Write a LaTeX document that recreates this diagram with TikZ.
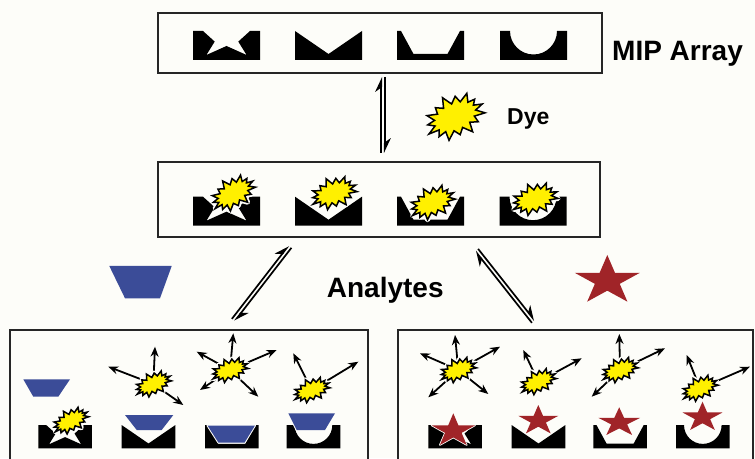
\documentclass[tikz,border=0pt]{standalone}
\usepackage{fontspec}
\setmainfont{Liberation Sans}
\usetikzlibrary{arrows.meta,calc}

\definecolor{paper}{RGB}{253,253,249}
\definecolor{dyeyellow}{RGB}{255,240,0}
\definecolor{analyteblue}{RGB}{59,76,152}
\definecolor{analytered}{RGB}{160,36,40}
\definecolor{frame}{RGB}{38,38,38}

\tikzset{
  panel/.style={draw=frame, line width=1.6pt, fill=paper, inner sep=0pt, outer sep=0pt},
  caption/.style={font=\bfseries\fontsize{28}{30}\selectfont, inner sep=0pt, anchor=base west},
  emit/.style={line width=1.8pt, -{Stealth[length=10pt,width=8pt]}},
  harp/.style={line width=1.7pt, -{Stealth[harpoon,length=13pt,width=12pt]}},
  halo/.style={preaction={draw=paper, line width=#1, line join=round}},
  halo/.default=4pt,
  % imprinted cavities: origin at the lower left corner of the block
  pics/starwell/.style={code={
    \fill (0,29) -- (10,29) -- (21.7,18.4) -- (13.4,5) -- (33.5,14) -- (53.6,5)
      -- (45.3,18.4) -- (57,29) -- (67,29) -- (67,0) -- (0,0) -- cycle;}},
  pics/vwell/.style={code={
    \fill (0,29) -- (33.5,6) -- (67,29) -- (67,0) -- (0,0) -- cycle;}},
  pics/trapwell/.style={code={
    \fill (0,29) -- (4,29) -- (16.5,6) -- (50.5,6) -- (63,29) -- (67,29)
      -- (67,0) -- (0,0) -- cycle;}},
  pics/uwell/.style={code={
    \fill (0,29) -- (10,29) arc[start angle=180, end angle=360, radius=23.5]
      -- (67,29) -- (67,0) -- (0,0) -- cycle;}},
  % jagged dye burst: body half axes #1, #2 and spike length #3
  pics/dye/.style n args={3}{code={
    \path[fill=dyeyellow, draw=black, line width=1.5pt, line join=miter, halo=5pt]
      ({#1+#3},0)
      \foreach \t/\s in {12/0,24/.7,36/0,48/1.1,60/0,72/.8,84/0,96/1.2,108/0,120/.75,
                         132/0,144/1.1,156/0,168/.85,180/0,192/1.2,204/0,216/.8,228/0,
                         240/1.1,252/0,264/.7,276/0,288/1.15,300/0,312/.8,324/0,336/1.2,348/0}
      { -- ({(#1+#3*\s)*cos(\t)},{(#2+#3*\s)*sin(\t)}) } -- cycle;}},
  % five-pointed analyte star with half axes #1, #2
  pics/redstar/.style n args={2}{code={
    \path[fill=analytered, halo=1.6pt] (0,#2)
      \foreach \a/\f in {126/0.382,162/1,198/0.382,234/1,270/0.382,306/1,342/0.382,18/1,54/0.382}
      { -- ({\f*#1*cos(\a)},{\f*#2*sin(\a)}) } -- cycle;}},
}

\newcommand\equilib[2]{%
  \draw[harp] ($(#1)!1.8pt!90:(#2)$) -- ($(#2)!1.8pt!-90:(#1)$);
  \draw[harp] ($(#2)!1.8pt!90:(#1)$) -- ($(#1)!1.8pt!-90:(#2)$);
}

\begin{document}
\begin{tikzpicture}[x=1pt,y=1pt]
\useasboundingbox (0,0) rectangle (755,458);
\fill[paper] (0,0) rectangle (755,458);

% panels
\node[panel, minimum width=444pt, minimum height=60pt] (mip) at (380,415) {};
\node[panel, minimum width=442pt, minimum height=75pt] (mid) at (379,258.5) {};
\node[panel, minimum width=358pt, minimum height=140pt] (left) at (189,58) {};
\node[panel, minimum width=355pt, minimum height=140pt] (right) at (575.5,58) {};

% captions
\node[caption] (miptext) at (612,397) {MIP Array};
\node[caption, font=\bfseries\fontsize{23}{25}\selectfont] (dyetext) at (507,333) {Dye};
\node[caption] (analytestext) at (326.7,160.7) {Analytes};

% equilibria between the stages
\coordinate (v1) at ($(mip.south)+(3,-4)$);
\coordinate (v2) at ($(mid.north)+(4,9)$);
\coordinate (dl1) at ($(mid.south)+(-89,-9.7)$);
\coordinate (dl2) at ($(left.north)+(44.3,10)$);
\coordinate (dr1) at ($(mid.south)+(97.7,-13)$);
\coordinate (dr2) at ($(right.north)+(-42.2,8.3)$);
\equilib{v1}{v2}
\equilib{dl1}{dl2}
\equilib{dr1}{dr2}

% free dye and free analytes
\pic[rotate=25] at (455,341.3) {dye={22}{13}{8}};
\fill[analyteblue] (109.3,192) -- (171.7,192) -- (160,159.7) -- (125,159.7) -- cycle;
\pic at (607.3,177.2) {redstar={34.2}{25.8}};

% empty MIP array
\pic at (193,398) {starwell};
\pic at (295,398) {vwell};
\pic at (397,398) {trapwell};
\pic at (500,398) {uwell};

% array loaded with dye
\pic at (193,232.3) {starwell};
\pic at (295,232.3) {vwell};
\pic at (397,232.3) {trapwell};
\pic at (499.5,232.3) {uwell};
\pic[rotate=32] at (233.3,264.7) {dye={17}{9}{6}};
\pic[rotate=20] at (334,265) {dye={17}{9}{6}};
\pic[rotate=25] at (432.5,255.5) {dye={17}{9}{6}};
\pic[rotate=18] at (535,259) {dye={17}{9}{6}};

% blue analyte displacing the dye
\pic[scale=0.8] at (38.3,9.7) {starwell};
\pic[scale=0.8] at (121.7,9.7) {vwell};
\pic[scale=0.8] at (205,9.7) {trapwell};
\pic[scale=0.8] at (286.7,9.7) {uwell};
\fill[analyteblue] (23.3,78.7) -- (70,78.7) -- (58.3,61.3) -- (33.3,61.3) -- cycle;
\fill[analyteblue, halo=2pt] (125,43) -- (173.3,43) -- (161.7,28) -- (136.7,28) -- cycle;
\fill[analyteblue, halo=2pt] (207.5,32.5) -- (255,32.5) -- (244.5,15.3) -- (218.5,15.3) -- cycle;
\fill[analyteblue, halo=2pt] (288.3,44.7) -- (335,44.7) -- (325,28) -- (296.7,28) -- cycle;
\pic[rotate=28] at (70.8,37.2) {dye={14}{6.5}{4.5}};

\coordinate (L2) at (153.3,74);
\coordinate (L3) at (230,88);
\coordinate (L4) at (311.7,68);
\foreach \dx/\dy in {1.7/37.3, -45/17.3, 30/-21} \draw[emit] (L2) -- ++(\dx,\dy);
\foreach \dx/\dy in {3.3/36.7, -33.3/18.3, 46.7/20, -30/-20, 28.3/-26.7} \draw[emit] (L3) -- ++(\dx,\dy);
\foreach \dx/\dy in {-18.4/36.7, 46.6/28.3} \draw[emit] (L4) -- ++(\dx,\dy);
\pic[rotate=25] at (L2) {dye={14}{6.5}{4.5}};
\pic[rotate=20] at (L3) {dye={14}{6.5}{4.5}};
\pic[rotate=22] at (L4) {dye={14}{6.5}{4.5}};

% red analyte displacing the dye
\pic[scale=0.8] at (428.3,9.7) {starwell};
\pic[scale=0.8] at (511.7,9.7) {vwell};
\pic[scale=0.8] at (593.3,9.7) {trapwell};
\pic[scale=0.8] at (676,9.7) {uwell};
\pic at (453.3,27.2) {redstar={22.8}{17.5}};
\pic at (538.3,37.3) {redstar={21}{15.7}};
\pic at (619.2,35.4) {redstar={21.9}{15.3}};
\pic at (702.5,40.7) {redstar={21}{15.6}};

\coordinate (R1) at (458.3,88);
\coordinate (R2) at (538.3,76.3);
\coordinate (R3) at (620,88);
\coordinate (R4) at (700,69.7);
\foreach \dx/\dy in {-3.3/35, -38.3/16.7, 41.7/23.3, -30/-27.3, 30/-24} \draw[emit] (R1) -- ++(\dx,\dy);
\foreach \dx/\dy in {-15/31.7, 43.4/23.4} \draw[emit] (R2) -- ++(\dx,\dy);
\foreach \dx/\dy in {-0.7/36, 45/21.7, -28.3/-26.7} \draw[emit] (R3) -- ++(\dx,\dy);
\foreach \dx/\dy in {-13.3/33.3, 50/21.6} \draw[emit] (R4) -- ++(\dx,\dy);
\pic[rotate=22] at (R1) {dye={14}{6.5}{4.5}};
\pic[rotate=25] at (R2) {dye={14}{6.5}{4.5}};
\pic[rotate=22] at (R3) {dye={14}{6.5}{4.5}};
\pic[rotate=25] at (R4) {dye={14}{6.5}{4.5}};
\end{tikzpicture}
\end{document}
